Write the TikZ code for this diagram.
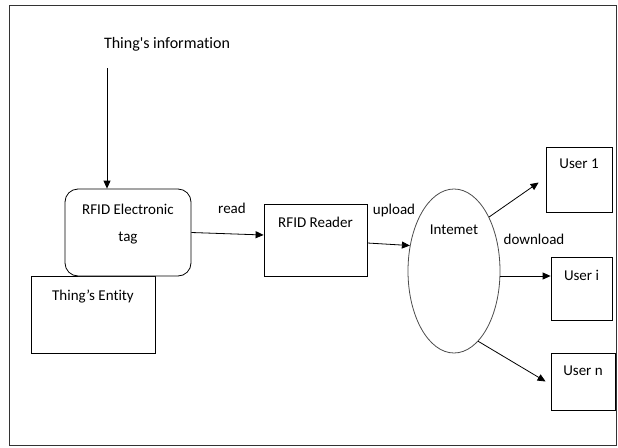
\documentclass[tikz,border=0pt]{standalone}
\usepackage{fontspec}
\setmainfont[Ligatures=CommonOff]{Carlito}
\newfontfamily\infofont[Ligatures={TeXOff,CommonOff}]{Carlito}
\usetikzlibrary{arrows.meta,shapes.geometric}
\begin{document}
\begin{tikzpicture}[x=1pt,y=-1pt,line width=0.8pt,
    >={Triangle[length=8pt,width=7pt]},
    every node/.style={font=\fontsize{15}{27}\selectfont},
    box/.style={draw,rectangle,inner sep=0pt},
    inbox/.style={inner sep=0pt,anchor=north,align=center},
    cloud/.style={draw=black!70,ellipse,inner sep=0pt}]
  \useasboundingbox (0,0) rectangle (618,447);
  \draw[black!80] (9,5) rectangle (616,445);
  % the thing and its tag
  \node[box,minimum width=124pt,minimum height=77pt,
        label={[inbox,yshift=-14pt]north:Thing's Entity}] (entity) at (93,314.5) {};
  \node[box,fill=white,rounded corners=13pt,minimum width=126pt,minimum height=87pt,
        label={[inbox,yshift=-15pt]north:RFID Electronic\\tag}] (tag) at (128,232.5) {};
  \node[font=\infofont\fontsize{16}{18}\selectfont] (info) at (167,44) {Thing's information};
  \coordinate (infoend) at (107,68);
  % reader and network
  \node[box,minimum width=103pt,minimum height=72pt,
        label={[inbox,yshift=-13pt]north:RFID Reader}] (reader) at (315.5,240) {};
  \node[cloud,minimum width=92pt,minimum height=164pt,
        label={[inbox,yshift=-36pt]north:Intemet}] (internet) at (454,271) {};
  % users
  \node[box,minimum width=66pt,minimum height=65pt,
        label={[inbox,yshift=-12pt]north:User 1}] (user1) at (579,179.5) {};
  \node[box,minimum width=61pt,minimum height=63pt,
        label={[inbox,yshift=-13pt]north:User i}] (useri) at (581.5,288.5) {};
  \node[box,minimum width=64pt,minimum height=57pt,
        label={[inbox,yshift=-13pt]north:User n}] (usern) at (583,381.5) {};
  % labels
  \node (read) at (232,208) {read};
  \node (upload) at (394,210) {upload};
  \node (download) at (534,239) {download};
  \begin{scope}[->]
    \draw (infoend) to (tag.north -| infoend);
    \draw (tag.east) to ([yshift=5pt]reader.west);
    \draw ([yshift=-3pt]reader.east) to (internet.150);
    \draw (internet.57) to ([xshift=-7pt,yshift=-3pt]user1.west);
    \draw ([yshift=-5pt]internet.east) to ([yshift=-5pt]internet.east -| useri.west);
    \draw (internet.-71) to ([xshift=-5pt]usern.west);
  \end{scope}
\end{tikzpicture}
\end{document}
